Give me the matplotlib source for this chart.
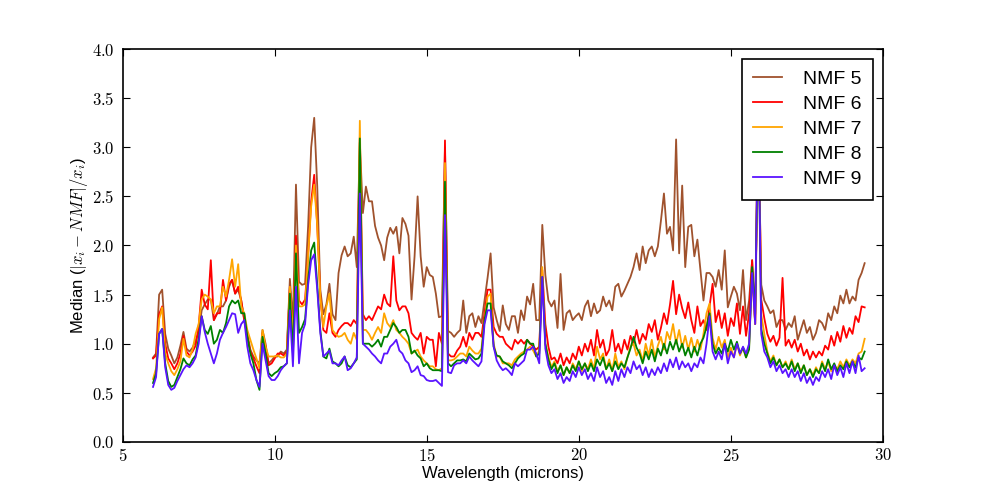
import numpy as np
import matplotlib
matplotlib.use("Agg")
import matplotlib.pyplot as plt
from matplotlib.ticker import FuncFormatter, MultipleLocator

plt.rcParams["font.family"] = ["Liberation Sans", "DejaVu Sans"]
plt.rcParams["mathtext.fontset"] = "cm"

# wavelength sampling grid (microns), 0.1 micron steps
wavelength = np.round(np.arange(6.0, 29.45, 0.1), 1)

# median relative residuals, one list per NMF rank (rows = 1 micron)
nmf5 = [
    0.86, 0.90, 1.50, 1.55, 1.10, 0.95, 0.88, 0.80, 0.86, 0.98,
    1.12, 0.95, 0.92, 0.96, 1.03, 1.12, 1.34, 1.40, 1.45, 1.45,
    1.24, 1.30, 1.38, 1.38, 1.44, 1.58, 1.65, 1.51, 1.55, 1.44,
    1.24, 1.11, 0.94, 0.87, 0.83, 0.80, 1.14, 1.00, 0.80, 0.83,
    0.87, 0.87, 0.92, 0.90, 0.94, 1.66, 1.22, 2.62, 1.63, 1.60,
    1.61, 2.20, 3.00, 3.30, 2.60, 1.55, 1.30, 1.40, 1.61, 1.30,
    1.24, 1.72, 1.90, 1.99, 1.89, 1.92, 2.09, 1.78, 3.05, 2.33,
    2.60, 2.45, 2.45, 2.20, 2.08, 2.00, 1.85, 2.08, 2.18, 2.12,
    2.19, 1.92, 2.28, 2.22, 2.10, 1.45, 1.89, 2.50, 1.89, 1.58,
    1.78, 1.70, 1.68, 1.51, 1.27, 1.28, 3.00, 1.13, 1.11, 1.07,
    1.11, 1.14, 1.44, 1.11, 1.28, 1.31, 1.17, 1.28, 1.21, 1.44,
    1.67, 1.92, 1.37, 1.24, 1.13, 1.39, 1.20, 1.14, 1.28, 1.28,
    1.11, 1.34, 1.24, 1.48, 1.40, 1.61, 1.24, 1.24, 2.21, 1.70,
    1.44, 1.38, 1.44, 1.16, 1.71, 1.14, 1.31, 1.34, 1.24, 1.28,
    1.31, 1.24, 1.38, 1.44, 1.28, 1.41, 1.31, 1.34, 1.48, 1.38,
    1.44, 1.34, 1.58, 1.61, 1.48, 1.54, 1.61, 1.68, 1.78, 1.92,
    1.75, 1.99, 1.82, 1.95, 1.99, 1.89, 1.99, 2.25, 2.53, 2.12,
    2.19, 1.95, 3.08, 1.92, 2.61, 1.78, 2.19, 2.21, 1.89, 2.06,
    1.75, 1.44, 1.72, 1.72, 1.68, 1.58, 1.75, 1.55, 1.95, 1.37,
    1.48, 1.58, 1.51, 1.34, 1.75, 1.24, 1.44, 1.85, 1.20, 3.30,
    1.60, 1.44, 1.38, 1.31, 1.34, 1.17, 1.24, 1.24, 1.14, 1.21,
    1.17, 1.28, 1.04, 1.14, 1.24, 1.11, 1.17, 1.04, 1.11, 1.24,
    1.21, 1.14, 1.31, 1.24, 1.38, 1.31, 1.49, 1.41, 1.55, 1.41,
    1.48, 1.44, 1.65, 1.72, 1.82,
]
nmf6 = [
    0.85, 0.88, 1.30, 1.38, 1.00, 0.85, 0.80, 0.74, 0.80, 0.90,
    1.08, 0.92, 0.88, 0.92, 0.98, 1.18, 1.55, 1.40, 1.35, 1.85,
    1.24, 1.31, 1.31, 1.65, 1.44, 1.61, 1.65, 1.51, 1.58, 1.44,
    1.24, 1.07, 0.92, 0.85, 0.77, 0.70, 1.11, 0.97, 0.78, 0.80,
    0.85, 0.90, 0.90, 0.88, 0.92, 1.58, 1.10, 2.10, 1.44, 1.40,
    1.45, 1.90, 2.45, 2.72, 2.20, 1.48, 1.14, 1.11, 1.31, 1.11,
    1.07, 1.14, 1.18, 1.21, 1.21, 1.18, 1.24, 1.20, 3.10, 1.30,
    1.24, 1.28, 1.24, 1.31, 1.38, 1.35, 1.50, 1.41, 1.38, 1.89,
    1.44, 1.34, 1.38, 1.38, 1.31, 1.11, 1.07, 1.04, 1.11, 0.90,
    1.07, 1.04, 1.04, 0.77, 1.11, 1.00, 3.07, 0.90, 0.87, 0.87,
    0.93, 0.97, 1.07, 0.97, 1.11, 1.04, 1.11, 1.11, 1.07, 1.31,
    1.55, 1.55, 1.17, 1.10, 1.07, 1.07, 1.00, 0.97, 0.94, 1.04,
    1.00, 1.04, 1.00, 1.04, 1.00, 0.97, 0.94, 0.97, 1.75, 1.20,
    0.97, 0.84, 0.86, 0.80, 0.90, 0.78, 0.86, 0.80, 0.90, 0.84,
    0.97, 0.88, 1.00, 0.92, 1.04, 0.88, 1.14, 0.96, 1.04, 0.88,
    0.94, 1.14, 0.92, 1.00, 0.90, 1.04, 0.94, 1.08, 1.00, 1.14,
    1.00, 1.10, 1.04, 1.20, 1.12, 1.24, 1.04, 1.16, 1.31, 1.20,
    1.40, 1.64, 1.30, 1.50, 1.36, 1.26, 1.42, 1.24, 1.11, 1.38,
    1.18, 1.24, 1.14, 1.38, 1.61, 1.22, 1.34, 1.16, 1.31, 1.08,
    1.26, 1.18, 1.41, 1.10, 1.38, 1.08, 1.31, 1.85, 1.20, 3.50,
    1.45, 1.26, 1.10, 1.02, 1.08, 0.98, 1.06, 1.67, 0.98, 1.04,
    0.96, 1.04, 0.92, 1.00, 0.88, 0.94, 0.84, 0.92, 0.86, 0.92,
    0.88, 0.98, 0.94, 1.08, 0.98, 1.12, 1.02, 1.18, 1.06, 1.16,
    1.10, 1.28, 1.22, 1.38, 1.37,
]
nmf7 = [
    0.64, 0.75, 1.25, 1.37, 0.90, 0.80, 0.72, 0.68, 0.74, 0.82,
    1.05, 0.88, 0.86, 0.94, 1.10, 1.20, 1.45, 1.50, 1.48, 1.45,
    1.31, 1.38, 1.38, 1.58, 1.48, 1.65, 1.86, 1.58, 1.81, 1.38,
    1.31, 1.14, 1.04, 0.94, 0.85, 0.75, 1.14, 0.97, 0.87, 0.87,
    0.87, 0.88, 0.86, 0.86, 0.90, 1.58, 1.05, 2.00, 1.38, 1.38,
    1.40, 1.90, 2.40, 2.62, 2.20, 1.48, 1.17, 1.38, 1.51, 1.14,
    1.10, 1.07, 1.08, 1.11, 1.04, 1.00, 1.11, 1.04, 3.27, 1.14,
    1.14, 1.10, 1.04, 1.11, 1.17, 1.11, 1.31, 1.21, 1.17, 1.24,
    1.14, 1.11, 1.07, 1.04, 1.00, 0.90, 0.92, 0.94, 0.87, 0.83,
    0.80, 0.77, 0.77, 0.74, 0.73, 0.75, 2.84, 0.83, 0.83, 0.84,
    0.87, 0.90, 0.90, 0.87, 0.97, 0.93, 0.90, 0.90, 0.95, 1.24,
    1.48, 1.51, 1.00, 0.87, 0.87, 0.80, 0.80, 0.80, 0.78, 0.84,
    0.87, 0.90, 0.92, 0.94, 0.97, 0.93, 0.87, 0.93, 1.78, 1.00,
    0.87, 0.76, 0.82, 0.72, 0.78, 0.68, 0.76, 0.70, 0.80, 0.74,
    0.82, 0.72, 0.80, 0.74, 0.84, 0.74, 0.97, 0.84, 0.90, 0.74,
    0.84, 0.72, 0.90, 0.76, 0.82, 0.74, 0.86, 0.97, 1.00, 0.88,
    0.94, 0.82, 1.00, 0.88, 1.04, 0.86, 0.98, 1.07, 0.94, 1.12,
    1.04, 1.20, 1.00, 1.14, 0.96, 1.08, 0.94, 1.06, 0.92, 1.04,
    0.94, 1.10, 1.31, 1.41, 1.06, 0.94, 1.07, 0.96, 1.04, 0.86,
    0.96, 0.86, 1.00, 0.88, 0.96, 0.86, 0.97, 1.70, 1.20, 3.60,
    1.30, 1.10, 0.92, 0.82, 0.88, 0.78, 0.84, 0.76, 0.82, 0.74,
    0.84, 0.74, 0.80, 0.72, 0.78, 0.68, 0.74, 0.68, 0.76, 0.70,
    0.82, 0.74, 0.82, 0.72, 0.78, 0.74, 0.82, 0.76, 0.84, 0.78,
    0.84, 0.80, 0.90, 0.92, 1.05,
]
nmf8 = [
    0.60, 0.70, 1.10, 1.15, 0.80, 0.62, 0.56, 0.58, 0.66, 0.74,
    0.85, 0.80, 0.78, 0.84, 0.88, 1.05, 1.28, 1.14, 1.10, 1.18,
    1.00, 1.04, 1.14, 1.11, 1.21, 1.38, 1.44, 1.41, 1.44, 1.31,
    1.31, 1.07, 0.90, 0.80, 0.63, 0.53, 1.07, 0.90, 0.70, 0.67,
    0.70, 0.72, 0.76, 0.77, 0.80, 1.51, 0.90, 1.92, 1.11, 1.17,
    1.25, 1.65, 1.95, 2.03, 1.60, 1.14, 0.87, 0.85, 0.95, 0.82,
    0.80, 0.77, 0.80, 0.87, 0.78, 0.76, 0.80, 0.84, 3.09, 1.00,
    1.00, 1.00, 0.97, 1.00, 1.04, 0.97, 1.07, 1.07, 1.14, 1.21,
    1.17, 1.11, 1.14, 1.14, 1.07, 0.90, 0.93, 0.88, 0.85, 0.77,
    0.80, 0.75, 0.73, 0.73, 0.73, 0.72, 2.65, 0.80, 0.77, 0.80,
    0.83, 0.83, 0.84, 0.82, 0.90, 0.87, 0.84, 0.85, 0.90, 1.24,
    1.41, 1.41, 0.97, 0.88, 0.87, 0.82, 0.80, 0.78, 0.75, 0.80,
    0.85, 0.88, 0.90, 1.04, 1.00, 1.00, 0.87, 0.90, 1.68, 1.00,
    0.84, 0.74, 0.80, 0.70, 0.78, 0.68, 0.76, 0.70, 0.78, 0.72,
    0.82, 0.74, 0.80, 0.72, 0.80, 0.72, 0.84, 0.78, 0.86, 0.74,
    0.80, 0.72, 0.82, 0.74, 0.80, 0.76, 0.86, 0.95, 1.07, 0.96,
    0.90, 0.80, 0.92, 0.84, 0.94, 0.82, 0.95, 0.88, 1.00, 0.90,
    1.02, 0.94, 1.04, 0.92, 1.00, 0.88, 0.96, 0.86, 0.97, 0.88,
    1.00, 1.06, 1.17, 1.31, 1.00, 0.90, 0.96, 0.90, 1.00, 0.92,
    1.04, 0.94, 1.02, 0.90, 0.96, 0.86, 0.94, 1.78, 1.30, 3.40,
    1.15, 1.00, 0.90, 0.80, 0.86, 0.78, 0.84, 0.76, 0.80, 0.74,
    0.82, 0.72, 0.80, 0.70, 0.78, 0.68, 0.74, 0.66, 0.74, 0.70,
    0.80, 0.72, 0.84, 0.74, 0.80, 0.72, 0.78, 0.74, 0.82, 0.76,
    0.82, 0.76, 0.86, 0.84, 0.92,
]
nmf9 = [
    0.56, 0.66, 1.10, 1.15, 0.76, 0.58, 0.53, 0.55, 0.62, 0.68,
    0.74, 0.78, 0.76, 0.80, 0.86, 1.00, 1.28, 1.12, 1.00, 0.90,
    0.80, 0.90, 1.04, 1.11, 1.17, 1.24, 1.31, 1.30, 1.11, 1.20,
    1.24, 0.97, 0.80, 0.73, 0.63, 0.56, 1.00, 0.83, 0.67, 0.63,
    0.63, 0.67, 0.73, 0.77, 0.80, 1.34, 0.77, 1.58, 0.80, 1.11,
    1.20, 1.60, 1.85, 1.91, 1.55, 1.11, 0.87, 0.90, 0.93, 0.80,
    0.80, 0.78, 0.83, 0.87, 0.73, 0.75, 0.80, 0.86, 2.53, 1.00,
    0.97, 0.94, 0.90, 0.87, 0.83, 0.80, 0.90, 0.90, 0.97, 1.00,
    1.04, 0.93, 0.90, 0.83, 0.80, 0.71, 0.73, 0.77, 0.68, 0.67,
    0.63, 0.62, 0.62, 0.63, 0.60, 0.57, 2.31, 0.71, 0.70, 0.78,
    0.80, 0.80, 0.83, 0.80, 0.87, 0.83, 0.80, 0.77, 0.82, 1.20,
    1.34, 1.34, 0.97, 0.83, 0.77, 0.73, 0.75, 0.72, 0.68, 0.80,
    0.77, 0.80, 0.83, 0.94, 0.94, 0.97, 0.90, 0.80, 1.68, 0.95,
    0.78, 0.70, 0.74, 0.64, 0.70, 0.60, 0.66, 0.62, 0.72, 0.66,
    0.76, 0.68, 0.74, 0.64, 0.70, 0.62, 0.76, 0.66, 0.72, 0.60,
    0.66, 0.58, 0.72, 0.62, 0.74, 0.66, 0.76, 0.70, 0.82, 0.74,
    0.78, 0.68, 0.76, 0.66, 0.74, 0.68, 0.76, 0.70, 0.80, 0.72,
    0.84, 0.76, 0.86, 0.74, 0.82, 0.76, 0.80, 0.72, 0.80, 0.76,
    0.86, 0.80, 1.00, 1.28, 0.92, 0.84, 0.92, 0.84, 1.00, 0.80,
    0.92, 0.86, 1.00, 0.90, 0.97, 0.90, 1.00, 1.72, 1.20, 3.60,
    1.10, 0.92, 0.86, 0.76, 0.82, 0.72, 0.78, 0.70, 0.74, 0.66,
    0.74, 0.66, 0.72, 0.62, 0.70, 0.60, 0.66, 0.58, 0.66, 0.62,
    0.72, 0.66, 0.74, 0.64, 0.78, 0.68, 0.76, 0.66, 0.80, 0.70,
    0.82, 0.70, 0.88, 0.72, 0.75,
]

series = [nmf5, nmf6, nmf7, nmf8, nmf9]
labels = ["NMF 5", "NMF 6", "NMF 7", "NMF 8", "NMF 9"]
colors = ["#a0522d", "#ff0000", "#ffa500", "#008000", "#5a14ff"]

fig = plt.figure(figsize=(9.81, 4.91), dpi=100)
ax = fig.add_axes([0.125, 0.1, 0.775, 0.8])

for vals, lab, col in zip(series, labels, colors):
    ax.plot(wavelength, vals, color=col, lw=1.3, label=lab)

ax.set_xlim(5, 30)
ax.set_ylim(0, 4)
ax.xaxis.set_major_locator(MultipleLocator(5))
ax.yaxis.set_major_locator(MultipleLocator(0.5))
ax.xaxis.set_major_formatter(FuncFormatter(lambda v, p: r"$%d$" % v))
ax.yaxis.set_major_formatter(FuncFormatter(lambda v, p: r"$%.1f$" % v))
ax.tick_params(direction="in", top=True, right=True, length=5, width=0.8,
               labelsize=12, pad=6)
ax.tick_params(axis="x", pad=4)
for sp in ax.spines.values():
    sp.set_linewidth(1.2)

ax.set_xlabel("Wavelength (microns)", fontsize=12, labelpad=1)
ax.set_ylabel(r"Median ($|x_i - NMF|/x_i$)", fontsize=12, labelpad=1)

leg = ax.legend(loc="upper right", fontsize=14, fancybox=False,
                framealpha=1, edgecolor="black", handlelength=1.45,
                borderaxespad=0.5, borderpad=0.6, labelspacing=0.38,
                handletextpad=1.1)
leg.get_frame().set_linewidth(1.2)

fig.savefig("out.png", dpi=100)
